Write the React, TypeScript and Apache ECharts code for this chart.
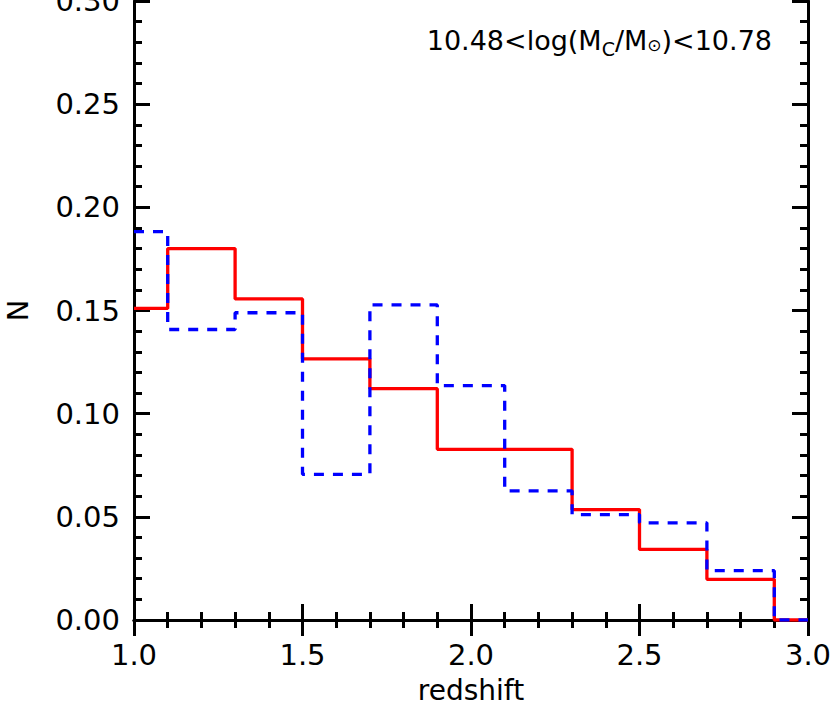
import React, { useEffect, useRef } from "react";
import * as echarts from "echarts";

const binEdges = [1.0, 1.1, 1.3, 1.5, 1.7, 1.9, 2.1, 2.3, 2.5, 2.7, 2.9, 3.0];
const redValues = [0.151, 0.180, 0.1556, 0.1266, 0.1121, 0.0827, 0.0827, 0.0535, 0.0342, 0.0197, 0.0];
const blueValues = [0.1882, 0.1408, 0.1489, 0.0706, 0.1527, 0.1136, 0.0626, 0.0511, 0.0471, 0.0239, 0.0];
const xTicks = [1.0, 1.5, 2.0, 2.5, 3.0];
const yTicks = [0.0, 0.05, 0.1, 0.15, 0.2, 0.25, 0.3];

function stepData(vals: number[]) {
  const d: number[][] = vals.map((v, i) => [binEdges[i], v]);
  d.push([binEdges[binEdges.length - 1], vals[vals.length - 1]]);
  return d;
}

const FONT = "DejaVu Sans";

export default function App() {
  const ref = useRef<HTMLDivElement>(null);
  useEffect(() => {
    if (!ref.current) return;
    const chart = echarts.init(ref.current, null, { renderer: "svg" });
    const axisCommon = {
      axisLine: { show: true, lineStyle: { color: "#000", width: 3 } },
      axisTick: { show: true, inside: true, length: 16, lineStyle: { color: "#000", width: 3 } },
      minorTick: { show: true, splitNumber: 5, length: 8, lineStyle: { color: "#000", width: 3 } },
      splitLine: { show: false },
    };
    chart.setOption({
      animation: false,
      backgroundColor: "#fff",
      grid: { left: 134, right: 22, top: 1, bottom: 89, outerBoundsMode: "none", containLabel: false },
      xAxis: [
        {
          type: "value",
          min: xTicks[0],
          max: xTicks[xTicks.length - 1],
          interval: 0.5,
          position: "bottom",
          ...axisCommon,
          axisLabel: {
            show: true,
            margin: 20,
            fontFamily: FONT,
            fontSize: 29,
            color: "#000",
            formatter: (v: number) => v.toFixed(1),
          },
          name: "redshift",
          nameLocation: "middle",
          nameGap: 55,
          nameTextStyle: { fontFamily: FONT, fontSize: 28, color: "#000", lineHeight: 30 },
        },
        {
          type: "value",
          min: xTicks[0],
          max: xTicks[xTicks.length - 1],
          interval: 0.5,
          position: "top",
          ...axisCommon,
          axisLabel: { show: false },
        },
      ],
      yAxis: [
        {
          type: "value",
          min: yTicks[0],
          max: yTicks[yTicks.length - 1],
          interval: 0.05,
          position: "left",
          ...axisCommon,
          axisLabel: {
            show: true,
            margin: 14,
            fontFamily: FONT,
            fontSize: 29,
            color: "#000",
            formatter: (v: number) => v.toFixed(2),
          },
          name: "N",
          nameLocation: "middle",
          nameGap: 102,
          nameTextStyle: { fontFamily: FONT, fontSize: 29, color: "#000" },
        },
        {
          type: "value",
          min: yTicks[0],
          max: yTicks[yTicks.length - 1],
          interval: 0.05,
          position: "right",
          ...axisCommon,
          axisLabel: { show: false },
        },
      ],
      series: [
        {
          type: "line",
          step: "end",
          symbol: "none",
          data: stepData(redValues),
          lineStyle: { color: "#ff0000", width: 3.3 },
          z: 3,
        },
        {
          type: "line",
          step: "end",
          symbol: "none",
          data: stepData(blueValues),
          lineStyle: { color: "#0000ff", width: 3.3, type: [10, 9] },
          z: 4,
        },
      ],
      graphic: [
        {
          type: "text",
          right: 58,
          top: 27,
          style: {
            text: "10.48<log(M{sub|C}/M{sun|⊙})<10.78",
            fontFamily: FONT,
            fontSize: 27,
            fill: "#000",
            rich: {
              sub: { fontFamily: FONT, fontSize: 19, fill: "#000", padding: [16, 0, 0, 0] },
              sun: { fontFamily: FONT, fontSize: 17, fill: "#000", padding: [8, 0, 0, 0] },
            },
          },
        },
      ],
    });
    return () => chart.dispose();
  }, []);
  return (
    <div
      ref={ref}
      style={{ position: "absolute", left: 0, top: 0, width: 830, height: 709 }}
    />
  );
}
